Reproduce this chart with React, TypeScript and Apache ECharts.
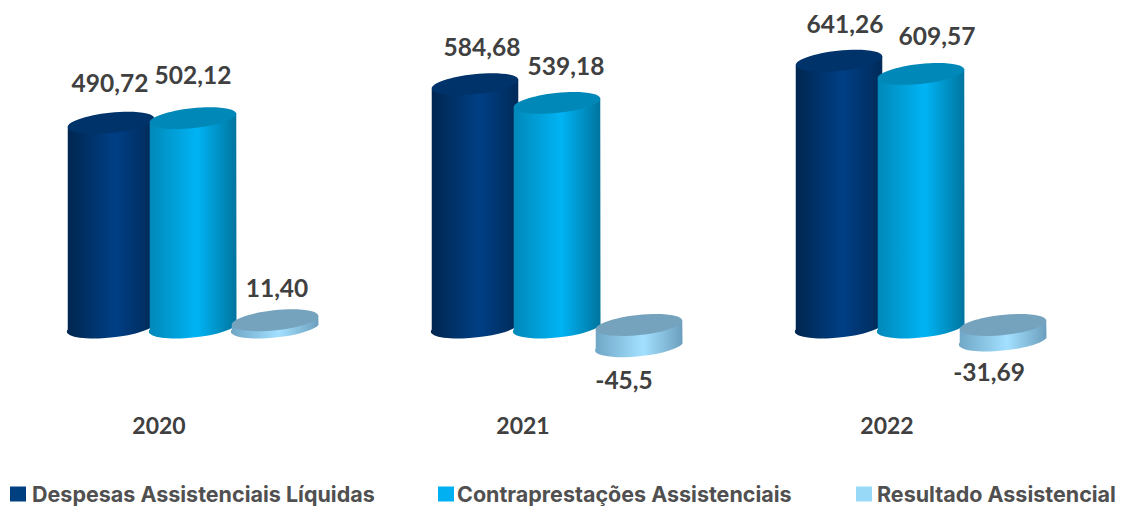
import React, { useEffect, useRef } from "react";
import * as echarts from "echarts";

const years = ["2020", "2021", "2022"];
const despesas = [490.72, 584.68, 641.26];
const contraprestacoes = [502.12, 539.18, 609.57];
const resultado = [11.4, -45.5, -31.69];
const despesasLabels = ["490,72", "584,68", "641,26"];
const contraprestacoesLabels = ["502,12", "539,18", "609,57"];
const resultadoLabels = ["11,40", "-45,5", "-31,69"];

const FONT = "Lato, 'Open Sans', sans-serif";
const LEGEND_FONT = "Inter, 'Open Sans', sans-serif";
const TEXT = "#404040";
const A = 43.5;
const B = 10;
const TILT = 6;

type Look = {
  name: string;
  values: number[];
  labels: string[];
  shift: number;
  legendColor: string;
  edgeL: string;
  mid: string;
  edgeR: string;
  top: string;
  labelDx: number[];
  labelDy: number[];
};

const looks: Look[] = [
  {
    name: "Despesas Assistenciais Líquidas",
    values: despesas,
    labels: despesasLabels,
    shift: -82,
    legendColor: "#004080",
    edgeL: "#00264f",
    mid: "#003f85",
    edgeR: "#002a58",
    top: "#00336a",
    labelDx: [-1, 7, 6],
    labelDy: [-40, -38, -37],
  },
  {
    name: "Contraprestações Assistenciais",
    values: contraprestacoes,
    labels: contraprestacoesLabels,
    shift: 0,
    legendColor: "#00b0f0",
    edgeL: "#0088b8",
    mid: "#00b4f5",
    edgeR: "#00749e",
    top: "#0088b8",
    labelDx: [0, 9, 16],
    labelDy: [-44, -37, -38],
  },
  {
    name: "Resultado Assistencial",
    values: resultado,
    labels: resultadoLabels,
    shift: 82,
    legendColor: "#99d9f8",
    edgeL: "#6fa6c6",
    mid: "#a3e0ff",
    edgeR: "#6c9fbd",
    top: "#75a3bd",
    labelDx: [2, -15, -14],
    labelDy: [-33, 36, 33],
  },
];

function cylinder(look: Look) {
  return (params: any, api: any) => {
    const i = api.value(0);
    const v = api.value(1);
    const [x0, zeroY] = api.coord([i, 0]);
    const valY = api.coord([i, v])[1];
    const cx = x0 + look.shift;
    const topY = Math.min(zeroY, valY);
    const botY = Math.max(zeroY, valY);
    const rad = (TILT * Math.PI) / 180;
    const dx = A * Math.cos(rad);
    const dy = A * Math.sin(rad);
    const body = [
      `M ${cx - dx} ${topY + dy}`,
      `L ${cx - dx} ${botY + dy}`,
      `A ${A} ${B} ${-TILT} 0 0 ${cx + dx} ${botY - dy}`,
      `L ${cx + dx} ${topY - dy}`,
      "Z",
    ].join(" ");
    const anchorY = v >= 0 ? topY : botY;
    return {
      type: "group",
      children: [
        {
          type: "path",
          shape: { pathData: body },
          style: {
            fill: new echarts.graphic.LinearGradient(0, 0, 1, 0, [
              { offset: 0, color: look.edgeL },
              { offset: 0.55, color: look.mid },
              { offset: 1, color: look.edgeR },
            ]),
          },
        },
        {
          type: "ellipse",
          x: cx,
          y: topY,
          rotation: rad,
          shape: { cx: 0, cy: 0, rx: A, ry: B },
          style: { fill: look.top },
        },
        {
          type: "text",
          x: cx + look.labelDx[i],
          y: anchorY + look.labelDy[i],
          style: {
            text: look.labels[i],
            fill: TEXT,
            font: `bold 24.5px ${FONT}`,
            align: "center",
            verticalAlign: "middle",
          },
        },
      ],
    };
  };
}

const legendLefts = [5, 433, 851];
const legendPads = [1, -2, 0];

export default function App() {
  const ref = useRef<HTMLDivElement>(null);
  useEffect(() => {
    const chart = echarts.init(ref.current!, undefined, { renderer: "svg" });
    chart.setOption({
      animation: false,
      backgroundColor: "#ffffff",
      grid: { left: 11, width: 1092, top: 36.6, height: 370.8 },
      xAxis: {
        type: "category",
        data: years,
        axisLine: { show: false },
        axisTick: { show: false },
        axisLabel: {
          color: TEXT,
          fontFamily: FONT,
          fontWeight: "bold",
          fontSize: 23,
          margin: 6,
          padding: [0, 68, 0, 0],
        },
      },
      yAxis: { type: "value", min: -200, max: 700, show: false, splitLine: { show: false } },
      legend: looks.map((l, k) => ({
        left: legendLefts[k],
        top: 478,
        itemWidth: 16,
        itemHeight: 15,
        itemGap: 0,
        icon: "rect",
        data: [l.name],
        textStyle: {
          color: "#505050",
          fontFamily: LEGEND_FONT,
          fontWeight: "bold",
          fontSize: 21.5,
          padding: [0, 0, 0, legendPads[k]],
        },
      })),
      series: looks.map((l) => ({
        type: "custom",
        name: l.name,
        coordinateSystem: "cartesian2d",
        clip: false,
        itemStyle: { color: l.legendColor },
        renderItem: cylinder(l),
        encode: { x: 0, y: 1 },
        data: l.values.map((v, i) => [i, v]),
      })),
    });
    return () => chart.dispose();
  }, []);
  return (
    <div
      ref={ref}
      style={{ position: "fixed", left: 0, top: 0, width: 1122, height: 506 }}
    />
  );
}
